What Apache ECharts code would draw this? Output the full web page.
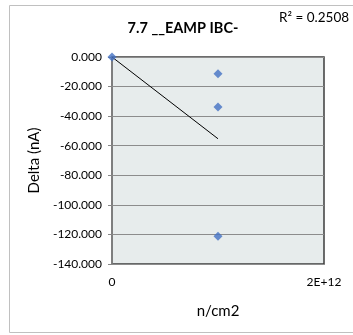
<!DOCTYPE html>
<html>
<head>
<meta charset="utf-8">
<script src="https://cdn.jsdelivr.net/npm/echarts@6/dist/echarts.min.js"></script>
<style>
	html, body { margin: 0; padding: 0; background: #fff; }
	#chart { width: 353px; height: 335px; }
</style>
</head>
<body>
<div id="chart"></div>
<script>
	'use strict';
	// measured points
	var fluence = [0, 1e12, 1e12, 1e12];
	var delta = [0, -11.3, -33.8, -121.3];
	// linear trendline endpoints as drawn in the source
	var trendX = [0, 1e12];
	var trendY = [0, -55.3];
	var yTicks = [0, -20, -40, -60, -80, -100, -120, -140];
	var xTicks = { 0: '0', 2e12: '2E+12' };

	var font = 'Lato, "Open Sans", sans-serif';
	var chart = echarts.init(document.getElementById('chart'), null, { renderer: 'canvas' });

	var option = {
		animation: false,
		backgroundColor: '#fff',
		grid: {
			left: 112,
			top: 57,
			width: 212,
			height: 207,
			show: true,
			backgroundColor: '#e7ecec',
			borderColor: '#3c3c3c',
			borderWidth: 1.5
		},
		graphic: [
			{
				type: 'rect',
				shape: { x: 9.5, y: 5.5, width: 360, height: 327 },
				style: { fill: 'none', stroke: '#c0c0c0', lineWidth: 1 },
				z: 0
			},
			{
				type: 'text',
				x: 183, y: 28,
				style: {
					text: '7.7 __EAMP IBC-',
					font: 'bold 14.5px ' + font,
					fill: '#000',
					align: 'center',
					verticalAlign: 'middle'
				}
			},
			{
				type: 'text',
				x: 279, y: 18,
				style: {
					text: 'R² = 0.2508',
					font: '13.5px ' + font,
					fill: '#000',
					align: 'left',
					verticalAlign: 'middle'
				}
			}
		],
		xAxis: {
			type: 'value',
			min: 0,
			max: 2e12,
			interval: 2e12,
			name: 'n/cm2',
			nameLocation: 'middle',
			nameGap: 40,
			nameTextStyle: { fontSize: 15, fontFamily: font, color: '#000' },
			axisLine: { show: false },
			axisTick: { show: false },
			splitLine: { show: false },
			axisLabel: {
				fontSize: 12,
				fontFamily: font,
				color: '#000',
				margin: 12,
				formatter: function (v) { return xTicks[v] !== undefined ? xTicks[v] : ''; }
			}
		},
		yAxis: {
			type: 'value',
			min: -140,
			max: 0,
			interval: 20,
			name: 'Delta (nA)',
			nameLocation: 'middle',
			nameGap: 70,
			nameTextStyle: { fontSize: 15, fontFamily: font, color: '#000' },
			axisLine: { show: true, lineStyle: { color: '#868686', width: 1.5 } },
			axisTick: { show: true, inside: false, length: 4, lineStyle: { color: '#868686' } },
			splitLine: { show: true, lineStyle: { color: '#8c8c8c', width: 1 } },
			axisLabel: {
				fontSize: 12,
				fontFamily: font,
				color: '#000',
				margin: 10,
				formatter: function (v) { return v.toFixed(3); }
			}
		},
		series: [
			{
				type: 'line',
				data: trendX.map(function (x, i) { return [x, trendY[i]]; }),
				showSymbol: false,
				symbol: 'none',
				lineStyle: { color: '#000', width: 1 },
				z: 2
			},
			{
				type: 'scatter',
				data: fluence.map(function (x, i) { return [x, delta[i]]; }),
				symbol: 'diamond',
				symbolSize: 9,
				itemStyle: { color: '#4472c4' },
				z: 3
			}
		]
	};
	chart.setOption(option);
</script>
</body>
</html>
